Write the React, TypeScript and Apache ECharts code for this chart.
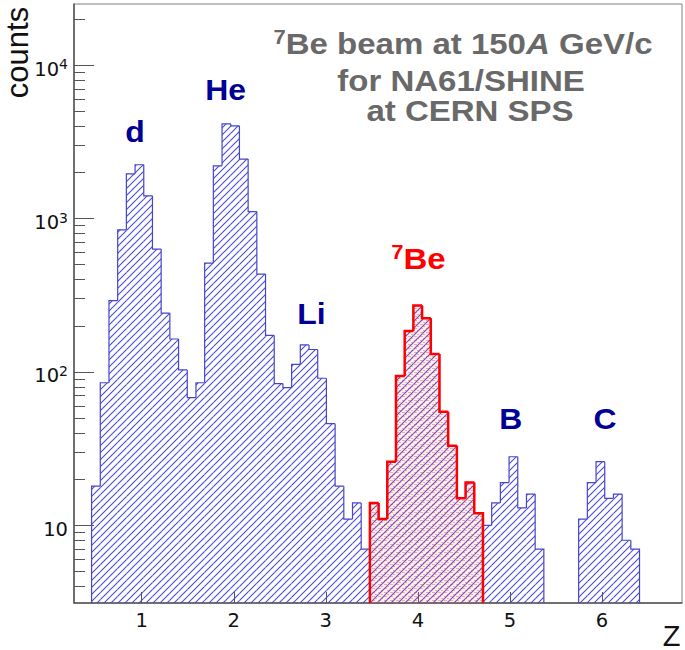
import React, { useEffect, useRef } from 'react';
import * as echarts from 'echarts';

// Counts per bin of the Z spectrum: 63 bins starting at binLow, each binWidth wide
const zCounts: number[] = [
  18, 85, 292, 844, 1955, 2240, 1406, 632, 242, 164, 103, 68, 85,
  512, 2205, 4140, 4020, 2440, 1110, 434, 173, 84, 79, 112, 150, 140, 91, 46,
  18, 11, 14, 7,
  14, 11, 26, 94, 185, 271, 224, 131, 55, 33, 15, 19, 12,
  10, 14, 19, 28, 13, 16, 7,
  0, 0, 0, 0,
  11, 19, 26, 15, 16, 8, 7,
];
const binLow = 0.455;
const binWidth = 0.0945;
// bins selected as 7Be (drawn in red)
const beFirstBin = 32;
const beLastBin = 44;

const xRange = [0.264, 6.87];
const yRange = [3.12, 25000];
const xTickValues = [1, 2, 3, 4, 5, 6];
const yMajorValues = [10, 100, 1000, 10000];
const yMinorValues = [
  4, 5, 6, 7, 8, 9,
  20, 30, 40, 50, 60, 70, 80, 90,
  200, 300, 400, 500, 600, 700, 800, 900,
  2000, 3000, 4000, 5000, 6000, 7000, 8000, 9000,
  20000,
];
const speciesNames = ['d', 'He', 'Li', 'B', 'C'];

function makeHatch(): HTMLCanvasElement {
  const s = 7;
  const c = document.createElement('canvas');
  c.width = s;
  c.height = s;
  const g = c.getContext('2d')!;
  g.strokeStyle = 'rgb(72,72,215)';
  g.lineWidth = 1.1;
  for (const k of [-1, 0, 1]) {
    g.beginPath();
    g.moveTo(k * s - 1, s + 1);
    g.lineTo(k * s + s + 1, -1);
    g.stroke();
  }
  return c;
}

function makeRedMesh(): HTMLCanvasElement {
  const w = 6;
  const h = 4;
  const c = document.createElement('canvas');
  c.width = w;
  c.height = h;
  const g = c.getContext('2d')!;
  g.fillStyle = 'rgba(255,120,120,0.12)';
  g.fillRect(0, 0, w, h);
  g.fillStyle = 'rgba(255,40,40,0.38)';
  g.fillRect(0, 0, 3, 1);
  g.fillRect(3, 2, 2, 1);
  return c;
}

function binData(first: number, last: number) {
  const out: number[][] = [];
  for (let i = first; i <= last; i++) {
    if (zCounts[i] > 0) out.push([binLow + i * binWidth, binLow + (i + 1) * binWidth, zCounts[i], i]);
  }
  return out;
}

function histRenderer(first: number, last: number, fill: any, stroke: string, lw: number) {
  return (params: any, api: any) => {
    const i = api.value(3);
    const c = api.value(2);
    const lo = api.coord([api.value(0), c]);
    const hi = api.coord([api.value(1), c]);
    const cs = params.coordSys;
    const bottom = cs.y + cs.height;
    const prev = i > first ? zCounts[i - 1] : 0;
    const next = i < last ? zCounts[i + 1] : 0;
    const yPrev = prev > 0 ? api.coord([api.value(0), prev])[1] : bottom;
    const pts: number[][] = [[lo[0], yPrev], [lo[0], lo[1]], [hi[0], hi[1]]];
    if (!(next > 0)) pts.push([hi[0], bottom]);
    return {
      type: 'group',
      children: [
        {
          type: 'rect',
          shape: { x: lo[0], y: lo[1], width: hi[0] - lo[0], height: bottom - lo[1] },
          style: { fill, stroke: 'none' },
        },
        {
          type: 'polyline',
          shape: { points: pts },
          style: { stroke, lineWidth: lw, fill: 'none', lineJoin: 'miter' },
        },
      ],
    };
  };
}

export default function App() {
  const ref = useRef<HTMLDivElement>(null);
  useEffect(() => {
    if (!ref.current) return;
    const chart = echarts.init(ref.current, null, { renderer: 'svg' });
    const hatch = makeHatch();
    const mesh = makeRedMesh();
    const bluePattern = { image: hatch, repeat: 'repeat', imageWidth: hatch.width, imageHeight: hatch.height };
    const redPattern = { image: mesh, repeat: 'repeat', imageWidth: mesh.width, imageHeight: mesh.height };

    const axisFont = 'DejaVu Sans';
    const labelFont = 'Liberation Sans';
    const navy = '#000096';
    const gray = '#696969';
    const red = '#ff0000';

    const speciesPos = [
      [135, 132],
      [225.5, 90],
      [311.5, 313.5],
      [510.7, 419],
      [605, 419],
    ];

    const blueText = (t: string, p: number[]) => ({
      type: 'text',
      x: p[0],
      y: p[1],
      scaleX: 1.1,
      z: 100,
      style: {
        text: t,
        fontFamily: labelFont,
        fontWeight: 'bold',
        fontSize: 29,
        fill: navy,
        align: 'center',
        verticalAlign: 'middle',
      },
    });

    const richSet = (color: string) => ({
      t: { fontFamily: labelFont, fontWeight: 'bold', fontSize: 30, fill: color, color, lineHeight: 34 },
      it: { fontFamily: labelFont, fontWeight: 'bold', fontStyle: 'italic', fontSize: 30, fill: color, color, lineHeight: 34 },
      sup: { fontFamily: labelFont, fontWeight: 'bold', fontSize: 20, fill: color, color, lineHeight: 20, verticalAlign: 'top' },
    });
    const richText = (text: string, x: number, y: number, color: string) => ({
      type: 'text',
      x,
      y,
      scaleX: 1.1,
      z: 100,
      style: {
        text,
        fill: color,
        rich: richSet(color),
        align: 'center',
        verticalAlign: 'middle',
      },
    });

    chart.setOption({
      animation: false,
      backgroundColor: '#ffffff',
      grid: {
        left: 74,
        right: 3,
        top: 4,
        bottom: 47,
        show: true,
        borderColor: '#808080',
        borderWidth: 1,
      },
      xAxis: {
        type: 'value',
        min: xRange[0],
        max: xRange[1],
        axisLine: { show: true, onZero: false, lineStyle: { color: '#555', width: 1.5 } },
        axisTick: { show: true, inside: true, length: 11, customValues: xTickValues, lineStyle: { color: '#555', width: 1 } },
        axisLabel: {
          customValues: xTickValues,
          fontFamily: axisFont,
          fontSize: 19.5,
          color: '#111',
          margin: 7,
          formatter: (v: number) => String(v),
        },
        splitLine: { show: false },
      },
      yAxis: [
        {
          type: 'log',
          logBase: 10,
          min: yRange[0],
          max: yRange[1],
          axisLine: { show: true, lineStyle: { color: '#555', width: 1.5 } },
          axisTick: { show: true, inside: true, length: 20, customValues: yMajorValues, lineStyle: { color: '#555', width: 1 } },
          axisLabel: {
            customValues: yMajorValues,
            margin: 6,
            formatter: (v: number) => {
              const e = Math.round(Math.log10(v));
              return e === 1 ? '{b|10}' : '{b|10}{s|' + e + '}';
            },
            rich: {
              b: { fontFamily: axisFont, fontSize: 19.5, color: '#111', lineHeight: 22, padding: [8, 0, 0, 0] },
              s: { fontFamily: axisFont, fontSize: 14, color: '#111', lineHeight: 14, verticalAlign: 'top', padding: [3, 0, 0, 0] },
            },
          },
          splitLine: { show: false },
          minorTick: { show: false },
        },
        {
          type: 'log',
          logBase: 10,
          min: yRange[0],
          max: yRange[1],
          position: 'left',
          axisLine: { show: false },
          axisTick: { show: true, inside: true, length: 11, customValues: yMinorValues, lineStyle: { color: '#555', width: 1 } },
          axisLabel: { show: false },
          splitLine: { show: false },
        },
      ],
      series: [
        {
          type: 'custom',
          name: 'all',
          xAxisIndex: 0,
          yAxisIndex: 0,
          renderItem: histRenderer(0, zCounts.length - 1, bluePattern, '#4646c8', 1.2),
          encode: { x: [0, 1], y: 2 },
          data: binData(0, zCounts.length - 1),
          z: 2,
        },
        {
          type: 'custom',
          name: '7Be',
          xAxisIndex: 0,
          yAxisIndex: 0,
          renderItem: histRenderer(beFirstBin, beLastBin, redPattern, red, 2.5),
          encode: { x: [0, 1], y: 2 },
          data: binData(beFirstBin, beLastBin),
          z: 3,
        },
      ],
      graphic: [
        ...speciesNames.map((n, k) => blueText(n, speciesPos[k])),
        richText('{sup|7}{t|Be}', 418.5, 258.5, red),
        richText('{sup|7}{t|Be beam at 150}{it|A}{t| GeV/c}', 463, 44, gray),
        richText('{t|for NA61/SHINE}', 461, 80.5, gray),
        richText('{t|at CERN SPS}', 470, 111, gray),
        {
          type: 'text',
          x: 17,
          y: 52.5,
          rotation: Math.PI / 2,
          z: 100,
          style: {
            text: 'counts',
            fontFamily: labelFont,
            fontSize: 31,
            lineHeight: 28,
            fill: '#111',
            align: 'center',
            verticalAlign: 'middle',
          },
        },
        {
          type: 'text',
          x: 671.5,
          y: 635.5,
          z: 100,
          style: {
            text: 'Z',
            fontFamily: labelFont,
            fontSize: 29,
            fill: '#111',
            align: 'center',
            verticalAlign: 'middle',
          },
        },
      ],
    });
    return () => chart.dispose();
  }, []);
  return (
    <div
      ref={ref}
      style={{ position: 'fixed', left: 0, top: 0, width: 685, height: 650, background: '#fff' }}
    />
  );
}
